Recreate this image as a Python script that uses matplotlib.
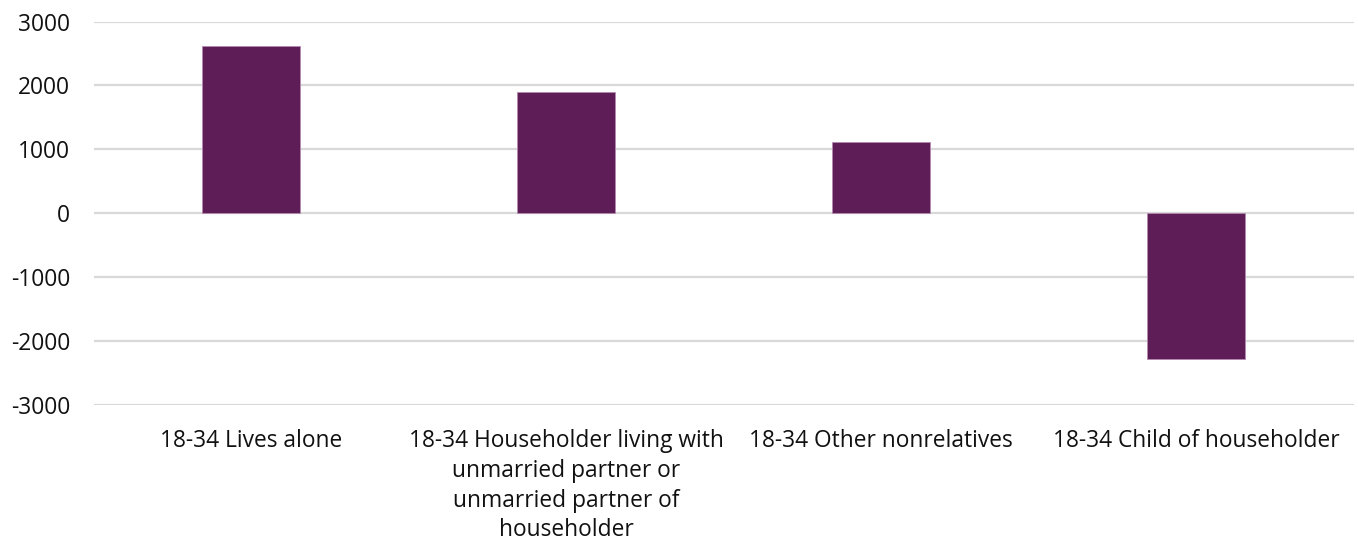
import matplotlib
matplotlib.use('Agg')
import matplotlib.pyplot as plt

categories = ['18-34 Lives alone',
              '18-34 Householder living with\nunmarried partner or\nunmarried partner of\nhouseholder',
              '18-34 Other nonrelatives',
              '18-34 Child of householder']
values = [2620, 1890, 1110, -2275]
yticks = [-3000, -2000, -1000, 0, 1000, 2000, 3000]

plt.rcParams['font.family'] = ['Open Sans', 'DejaVu Sans']

fig = plt.figure(figsize=(13.58, 5.43), dpi=100)
ax = fig.add_axes([0.0689, 0.2541, 0.9278, 0.7063])

ax.bar(range(len(categories)), values, width=0.31, color='#5E1D57',
       edgecolor='#B48AB0', linewidth=0.6, zorder=3)

ax.set_xlim(-0.5, len(categories) - 0.5)
ax.set_ylim(-3000, 3000)
ax.set_yticks(yticks)
ax.set_yticklabels([str(v) for v in yticks])
ax.set_xticks(range(len(categories)))
ax.set_xticklabels(categories, linespacing=1.33)

ax.grid(axis='y', color='#D9D9D9', linewidth=1.6, zorder=0)
for s in ax.spines.values():
    s.set_visible(False)
ax.tick_params(axis='both', length=0, labelsize=16.4, colors='#111111')
ax.tick_params(axis='y', pad=17)
ax.tick_params(axis='x', pad=17)

fig.savefig('out.png', dpi=100)
